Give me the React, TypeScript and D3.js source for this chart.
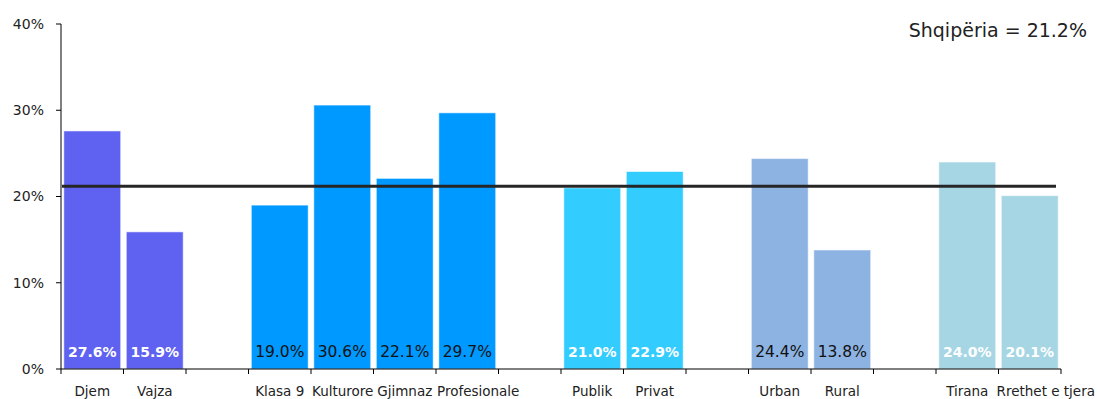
import React from "react";
import * as d3 from "d3";

const categories = ["Djem", "Vajza", "_b1", "Klasa 9", "Kulturore", "Gjimnaz", "Profesionale", "_b2", "Publik", "Privat", "_b3", "Urban", "Rural", "_b4", "Tirana", "Rrethet e tjera"];
const values: (number | null)[] = [27.6, 15.9, null, 19.0, 30.6, 22.1, 29.7, null, 21.0, 22.9, null, 24.4, 13.8, null, 24.0, 20.1];
const groups = [0, 0, -1, 1, 1, 1, 1, -1, 2, 2, -1, 3, 3, -1, 4, 4];
const groupColors = ["#5F62F0", "#0099FF", "#33CCFF", "#8DB3E2", "#A6D6E4"];
const labelWhite = [true, false, true, false, true];
const yTicks = [0, 10, 20, 30, 40];
const average = 21.2;
const averageLabel = "Shqipëria = 21.2%";

function measure(text: string, font: string): number {
  const canvas = document.createElement("canvas");
  const ctx = canvas.getContext("2d");
  if (!ctx) return text.length * 7;
  ctx.font = font;
  return ctx.measureText(text).width;
}

export default function App() {
  const W = 1097, H = 399;
  const x = d3.scaleBand<string>().domain(categories).range([61, 1061]).paddingInner(0.09).paddingOuter(0.045);
  const y = d3.scaleLinear().domain([0, 40]).range([369, 24]);
  const font = "'DejaVu Sans', Verdana, sans-serif";
  const catSize = 13.5;
  const step = x.step();
  return (
    <svg width={W} height={H} style={{ position: "absolute", left: 0, top: 0, background: "#fff" }}>
      {/* bars */}
      {categories.map((c, i) => {
        const v = values[i];
        if (v == null) return null;
        const g = groups[i];
        return (
          <rect key={c} x={x(c)!} y={y(v)} width={x.bandwidth()} height={y(0) - y(v)}
            fill={groupColors[g]} stroke="rgba(255,255,255,0.55)" strokeWidth={1} />
        );
      })}
      {/* y axis */}
      <line x1={61} x2={61} y1={y(40)} y2={y(0)} stroke="#000" strokeWidth={1} />
      {yTicks.map(t => (
        <g key={t}>
          <line x1={56} x2={61} y1={y(t)} y2={y(t)} stroke="#000" />
          <text x={44} y={y(t)} dy="0.35em" textAnchor="end" fontFamily={font} fontSize={14} fill="#222">{t}%</text>
        </g>
      ))}
      {/* x axis */}
      <line x1={61} x2={1061} y1={y(0)} y2={y(0)} stroke="#000" />
      {d3.range(categories.length + 1).map(i => (
        <line key={i} x1={61 + i * step} x2={61 + i * step} y1={y(0)} y2={y(0) + 5} stroke="#000" />
      ))}
      {categories.map((c, i) => {
        if (values[i] == null) return null;
        const w = measure(c, `${catSize}px 'DejaVu Sans'`);
        const left = 61 + i * step;
        const overflow = w > step - 4;
        const startX = overflow ? Math.min(left + 1, W - 2 - w) : left + step / 2;
        return (
          <text key={c} x={startX} y={391} dy="0.35em"
            textAnchor={overflow ? "start" : "middle"} fontFamily={font} fontSize={catSize} fill="#222">{c}</text>
        );
      })}
      {/* average line */}
      <line x1={62} x2={1056} y1={y(average)} y2={y(average)} stroke="#262626" strokeWidth={3} />
      {/* value labels */}
      {categories.map((c, i) => {
        const v = values[i];
        if (v == null) return null;
        const white = labelWhite[groups[i]];
        return (
          <text key={c} x={x(c)! + x.bandwidth() / 2} y={352} dy="0.35em" textAnchor="middle" fontFamily={font}
            fontSize={white ? 14 : 15.5} fontWeight={white ? "bold" : "normal"} fill={white ? "#fff" : "#111"}>{v.toFixed(1)}%</text>
        );
      })}
      <text x={1087} y={30} dy="0.35em" textAnchor="end" fontFamily={font} fontSize={19} fill="#222">{averageLabel}</text>
    </svg>
  );
}
